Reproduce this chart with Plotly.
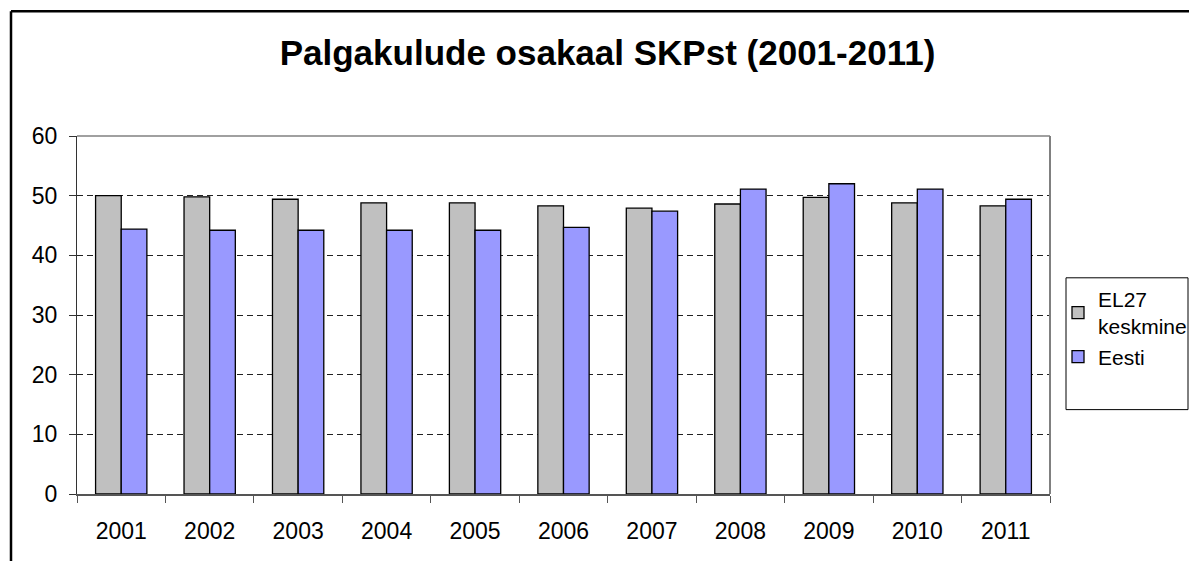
import plotly.graph_objects as go

years = ["2001", "2002", "2003", "2004", "2005", "2006", "2007", "2008", "2009", "2010", "2011"]
el27 = [50.0, 49.8, 49.4, 48.8, 48.8, 48.3, 47.9, 48.6, 49.7, 48.8, 48.3]
eesti = [44.4, 44.2, 44.2, 44.2, 44.2, 44.7, 47.4, 51.1, 52.0, 51.1, 49.4]
series_names = ["EL27<br>keskmine", "Eesti"]
title_text = "Palgakulude osakaal SKPst (2001-2011)"
y_ticks = [0, 10, 20, 30, 40, 50, 60]

# the page places the figure at an 8px offset; work in reference pixels minus 8
OFF = 8
W, H = 1197 - OFF, 561 - OFF
L, R, T, B = 77 - OFF, 1050 - OFF, 136 - OFF, 494.5 - OFF
pw, ph = R - L, B - T

def px(x):
    return (x - OFF - L) / pw

def py(y):
    return (B - (y - OFF)) / ph

FONT = "Liberation Sans, Arial, sans-serif"

fig = go.Figure()
fig.add_trace(go.Bar(x=years, y=el27, name=series_names[0],
                     marker=dict(color="#C0C0C0", line=dict(color="#000000", width=1.3))))
fig.add_trace(go.Bar(x=years, y=eesti, name=series_names[1],
                     marker=dict(color="#9999FF", line=dict(color="#000000", width=1.3))))

fig.update_layout(
    width=W, height=H,
    margin=dict(l=L, r=W - R, t=T, b=H - B, autoexpand=False),
    paper_bgcolor="white", plot_bgcolor="white",
    barmode="group", bargap=0.42, bargroupgap=0,
    font=dict(family=FONT, size=23, color="black"),
    title=dict(text="<b>" + title_text + "</b>", x=(607.5 - OFF) / W, xanchor="center", xref="container",
               y=1 - (53 - OFF) / H, yanchor="middle", yref="container",
               font=dict(family=FONT, size=35, color="black")),
    showlegend=True,
    legend=dict(x=px(1058), xanchor="left", y=py(279), yanchor="top",
                bgcolor="rgba(0,0,0,0)", borderwidth=0,
                font=dict(family=FONT, size=21, color="black"),
                tracegroupgap=10),
    xaxis=dict(type="category", tickson="boundaries", ticks="outside", ticklen=7,
               tickcolor="#555555", showline=True, linecolor="#555555", linewidth=1.5,
               showgrid=False, ticklabelstandoff=16, tickfont=dict(size=23)),
    yaxis=dict(range=[0, 60], tickvals=y_ticks, ticks="outside", ticklen=7,
               tickcolor="#333333", showline=True, linecolor="#333333", linewidth=1.2,
               showgrid=True, gridcolor="#222222", gridwidth=1, griddash="6px,4px",
               ticklabelstandoff=7, tickfont=dict(size=23), zeroline=False),
)

shapes = [
    # plot area top and right border (gray)
    dict(type="line", xref="paper", yref="paper", x0=0, x1=1, y0=1, y1=1,
         line=dict(color="#808080", width=1.5)),
    dict(type="line", xref="paper", yref="paper", x0=1, x1=1, y0=0, y1=1,
         line=dict(color="#808080", width=2)),
    # outer frame (top and left)
    dict(type="line", xref="paper", yref="paper", x0=px(11), x1=px(1195), y0=py(11), y1=py(11),
         line=dict(color="black", width=2.5)),
    dict(type="line", xref="paper", yref="paper", x0=px(11), x1=px(11), y0=py(11), y1=py(570),
         line=dict(color="black", width=2.5)),
    # legend box
    dict(type="rect", xref="paper", yref="paper", x0=px(1066), x1=px(1188), y0=py(278), y1=py(410),
         line=dict(color="black", width=1), fillcolor="rgba(0,0,0,0)"),
]
fig.update_layout(shapes=shapes)

fig.write_html("out.html")
